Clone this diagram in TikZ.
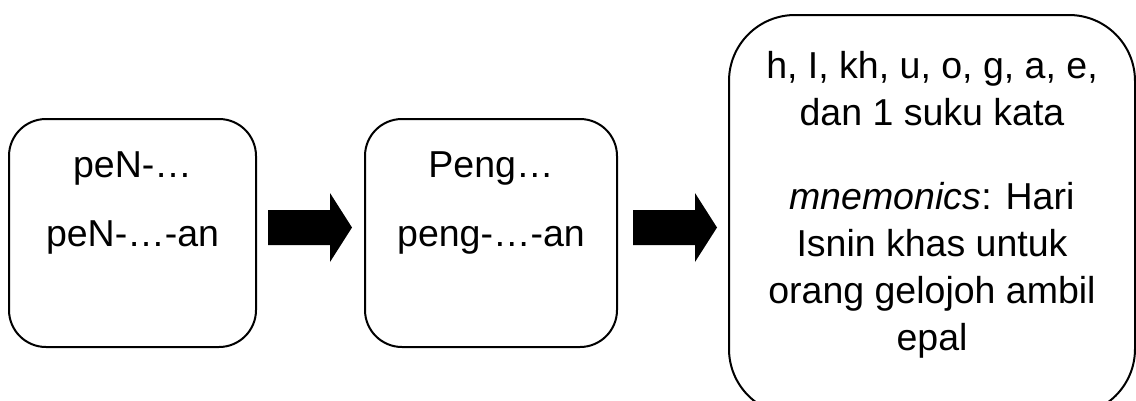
\documentclass[tikz,border=0pt]{standalone}
\usepackage{fontspec}
\setmainfont{Liberation Sans}
\begin{document}
\begin{tikzpicture}[x=1pt,y=-1pt,
  box/.style={draw=black, line width=2pt, fill=white, inner sep=0pt},
  boxtext/.style={anchor=base, align=center, inner sep=0pt,
    font=\fontsize{37.5}{47}\selectfont},
  blockarrow/.pic={\fill[black] (0,0) -- (0,-17.5) -- (62,-17.5) -- (62,-34.5)
     -- (84,0) -- (62,34.5) -- (62,17.5) -- (0,17.5) -- cycle;}]
\useasboundingbox (0,0) rectangle (1136,400);
\clip (0,0) rectangle (1136,400);
\fill[white] (0,0) rectangle (1136,400);
% boxes
\node[box, rounded corners=37pt, minimum width=247pt, minimum height=228pt] (b1) at (132.5,233) {};
\node[box, rounded corners=37pt, minimum width=252pt, minimum height=228pt] (b2) at (491,233) {};
\node[box, rounded corners=66pt, minimum width=406pt, minimum height=400pt] (b3) at (932,215) {};
% texts (base anchor = baseline of the last line)
\node[boxtext] (t1) at (132.5,246) {peN-…\\[22pt]peN-…-an};
\node[boxtext] (t2) at (491,246) {Peng…\\[22pt]peng-…-an};
\node[boxtext] (t3) at (932,350) {h, I, kh, u, o, g, a, e,\\dan 1 suku kata\\[37pt]\textit{mnemonics}: Hari\\Isnin khas untuk\\orang gelojoh ambil\\epal};
% block arrows
\coordinate (a1) at (268,227.5);
\coordinate (a2) at (633,227.5);
\pic at (a1) {blockarrow};
\pic at (a2) {blockarrow};
\end{tikzpicture}
\end{document}
